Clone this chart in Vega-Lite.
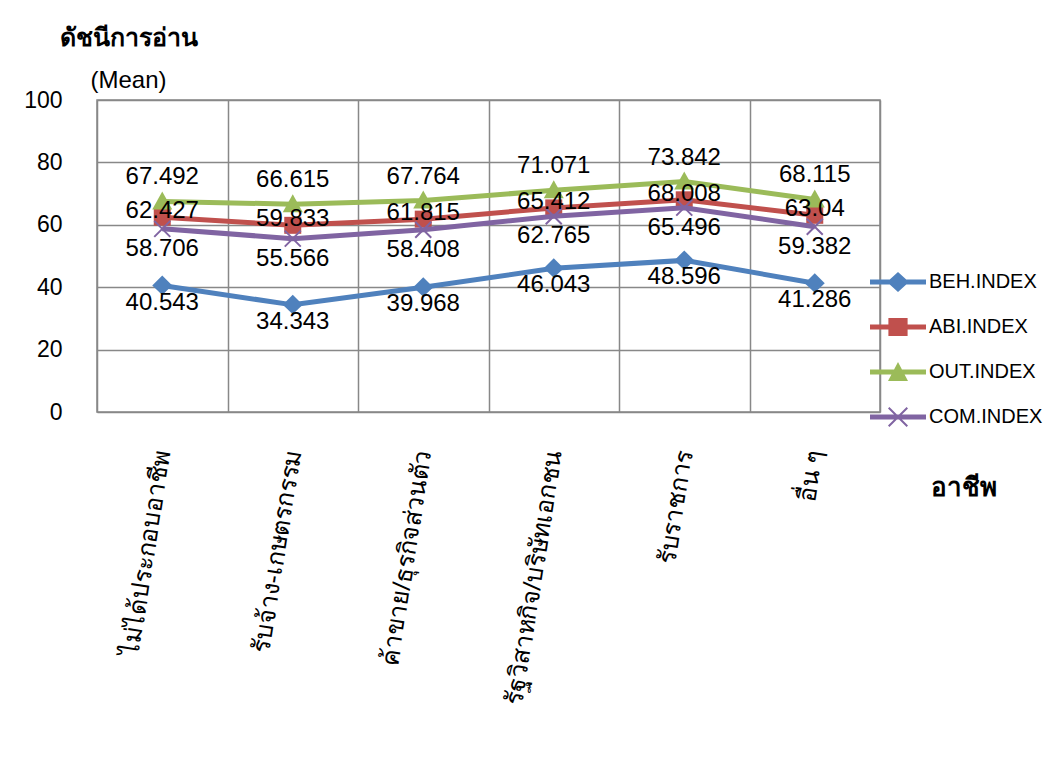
{
  "$schema": "https://vega.github.io/schema/vega-lite/v6.json",
  "width": 783,
  "height": 312,
  "autosize": {"type": "none"},
  "padding": {"left": 97, "top": 100, "right": 183, "bottom": 348},
  "background": "white",
  "title": {"text": "ดัชนีการอ่าน", "anchor": "start", "frame": "group", "dx": -37, "offset": -3, "baseline": "alphabetic", "fontSize": 25, "fontWeight": "bold", "font": "Liberation Sans", "color": "black"},
  "config": {
    "view": {"stroke": "#888", "strokeWidth": 1.5},
    "font": "Liberation Sans",
    "legend": {"orient": "none", "legendX": 781, "legendY": 162, "padding": 0, "symbolSize": 1600, "symbolStrokeWidth": 0, "rowPadding": 15, "labelOffset": 11, "labelFontSize": 20, "labelColor": "black", "labelFont": "Liberation Sans", "labelLimit": 300}
  },
  "data": {"values": [
    {"occupation": "ไม่ได้ประกอบอาชีพ", "series": "BEH.INDEX", "value": 40.543},
    {"occupation": "รับจ้าง-เกษตรกรรม", "series": "BEH.INDEX", "value": 34.343},
    {"occupation": "ค้าขาย/ธุรกิจส่วนตัว", "series": "BEH.INDEX", "value": 39.968},
    {"occupation": "รัฐวิสาหกิจ/บริษัทเอกชน", "series": "BEH.INDEX", "value": 46.043},
    {"occupation": "รับราชการ", "series": "BEH.INDEX", "value": 48.596},
    {"occupation": "อื่น ๆ", "series": "BEH.INDEX", "value": 41.286},
    {"occupation": "ไม่ได้ประกอบอาชีพ", "series": "ABI.INDEX", "value": 62.427},
    {"occupation": "รับจ้าง-เกษตรกรรม", "series": "ABI.INDEX", "value": 59.833},
    {"occupation": "ค้าขาย/ธุรกิจส่วนตัว", "series": "ABI.INDEX", "value": 61.815},
    {"occupation": "รัฐวิสาหกิจ/บริษัทเอกชน", "series": "ABI.INDEX", "value": 65.412},
    {"occupation": "รับราชการ", "series": "ABI.INDEX", "value": 68.008},
    {"occupation": "อื่น ๆ", "series": "ABI.INDEX", "value": 63.04},
    {"occupation": "ไม่ได้ประกอบอาชีพ", "series": "OUT.INDEX", "value": 67.492},
    {"occupation": "รับจ้าง-เกษตรกรรม", "series": "OUT.INDEX", "value": 66.615},
    {"occupation": "ค้าขาย/ธุรกิจส่วนตัว", "series": "OUT.INDEX", "value": 67.764},
    {"occupation": "รัฐวิสาหกิจ/บริษัทเอกชน", "series": "OUT.INDEX", "value": 71.071},
    {"occupation": "รับราชการ", "series": "OUT.INDEX", "value": 73.842},
    {"occupation": "อื่น ๆ", "series": "OUT.INDEX", "value": 68.115},
    {"occupation": "ไม่ได้ประกอบอาชีพ", "series": "COM.INDEX", "value": 58.706},
    {"occupation": "รับจ้าง-เกษตรกรรม", "series": "COM.INDEX", "value": 55.566},
    {"occupation": "ค้าขาย/ธุรกิจส่วนตัว", "series": "COM.INDEX", "value": 58.408},
    {"occupation": "รัฐวิสาหกิจ/บริษัทเอกชน", "series": "COM.INDEX", "value": 62.765},
    {"occupation": "รับราชการ", "series": "COM.INDEX", "value": 65.496},
    {"occupation": "อื่น ๆ", "series": "COM.INDEX", "value": 59.382}
  ]},
  "encoding": {
    "x": {
      "field": "occupation", "type": "nominal",
      "sort": ["ไม่ได้ประกอบอาชีพ", "รับจ้าง-เกษตรกรรม", "ค้าขาย/ธุรกิจส่วนตัว", "รัฐวิสาหกิจ/บริษัทเอกชน", "รับราชการ", "อื่น ๆ"],
      "scale": {"type": "band", "paddingInner": 0, "paddingOuter": 0},
      "axis": {"title": "อาชีพ", "titleX": 866, "titleY": 75, "titleAlign": "center", "titleBaseline": "middle", "titleFontSize": 26, "titleFontWeight": "bold", "titleColor": "black", "labelAngle": -81, "labelAlign": "right", "labelBaseline": "middle", "labelPadding": 38, "labelFontSize": 25, "labelColor": "black", "labelLimit": 400, "ticks": false, "tickSize": 0, "domain": false, "grid": true, "gridColor": "#888", "gridWidth": 1.5, "tickBand": "extent"}
    },
    "y": {
      "field": "value", "type": "quantitative",
      "scale": {"domain": [0, 100], "nice": false},
      "axis": {"title": "(Mean)", "titleAngle": 0, "titleAlign": "left", "titleBaseline": "middle", "titleX": -7, "titleY": -20, "titleFontSize": 24, "titleFontWeight": "normal", "titleColor": "black", "values": [0, 20, 40, 60, 80, 100], "labelFontSize": 23, "labelColor": "black", "labelPadding": 35, "ticks": false, "tickSize": 0, "domain": false, "grid": true, "gridColor": "#888", "gridWidth": 1.5}
    }
  },
  "layer": [
    {
      "transform": [{"filter": "datum.series === 'BEH.INDEX'"}],
      "mark": {"type": "line", "strokeWidth": 5, "color": "#4F81BD"},
      "encoding": {}
    },
    {
      "transform": [{"filter": "datum.series === 'BEH.INDEX'"}],
      "mark": {"type": "point", "filled": true, "opacity": 1, "size": 400, "shape": "M0,-1L1,0L0,0.95L-1,0Z", "color": "#4F81BD"},
      "encoding": {}
    },
    {
      "transform": [{"filter": "datum.series === 'ABI.INDEX'"}],
      "mark": {"type": "line", "strokeWidth": 5, "color": "#C0504D"},
      "encoding": {}
    },
    {
      "transform": [{"filter": "datum.series === 'ABI.INDEX'"}],
      "mark": {"type": "point", "filled": true, "opacity": 1, "size": 400, "shape": "M-0.85,-0.85H0.85V0.85H-0.85Z", "color": "#C0504D"},
      "encoding": {}
    },
    {
      "transform": [{"filter": "datum.series === 'OUT.INDEX'"}],
      "mark": {"type": "line", "strokeWidth": 5, "color": "#9BBB59"},
      "encoding": {}
    },
    {
      "transform": [{"filter": "datum.series === 'OUT.INDEX'"}],
      "mark": {"type": "point", "filled": true, "opacity": 1, "size": 400, "shape": "M0,-1L1,0.8L-1,0.8Z", "color": "#9BBB59"},
      "encoding": {}
    },
    {
      "transform": [{"filter": "datum.series === 'COM.INDEX'"}],
      "mark": {"type": "line", "strokeWidth": 5, "color": "#8064A2"},
      "encoding": {}
    },
    {
      "transform": [{"filter": "datum.series === 'COM.INDEX'"}],
      "mark": {"type": "point", "filled": false, "opacity": 1, "size": 400, "strokeWidth": 2, "shape": "M-0.8,-0.8L0.8,0.8M0.8,-0.8L-0.8,0.8", "color": "#8064A2"},
      "encoding": {}
    },
    {
      "transform": [{"filter": "datum.value < 0"}],
      "mark": {"type": "point", "filled": true, "opacity": 1, "size": 1600},
      "encoding": {
        "color": {"field": "series", "type": "nominal",
          "scale": {"domain": ["BEH.INDEX", "ABI.INDEX", "OUT.INDEX", "COM.INDEX"], "range": ["#4F81BD", "#C0504D", "#9BBB59", "#8064A2"]},
          "legend": {"title": null}},
        "shape": {"field": "series", "type": "nominal",
          "scale": {"domain": ["BEH.INDEX", "ABI.INDEX", "OUT.INDEX", "COM.INDEX"], "range": [
            "M-1.4,-0.12H1.4V0.12H-1.4Z M0,-0.5L0.55,0L0,0.5L-0.55,0Z",
            "M-1.4,-0.12H1.4V0.12H-1.4Z M-0.48,-0.45H0.48V0.45H-0.48Z",
            "M-1.4,-0.12H1.4V0.12H-1.4Z M0,-0.5L0.5,0.45L-0.5,0.45Z",
            "M-1.4,-0.12H1.4V0.12H-1.4Z M-0.5,-0.43L-0.43,-0.5L0.5,0.43L0.43,0.5Z M0.43,-0.5L0.5,-0.43L-0.43,0.5L-0.5,0.43Z"
          ]},
          "legend": {"title": null}}
      }
    },
    {
      "transform": [{"filter": "datum.series === 'OUT.INDEX'"}],
      "mark": {"type": "text", "dy": -24, "fontSize": 24, "color": "black", "font": "Liberation Sans"},
      "encoding": {"text": {"field": "value", "type": "nominal"}}
    },
    {
      "transform": [{"filter": "datum.series === 'ABI.INDEX'"}],
      "mark": {"type": "text", "dy": -6, "fontSize": 24, "color": "black", "font": "Liberation Sans"},
      "encoding": {"text": {"field": "value", "type": "nominal"}}
    },
    {
      "transform": [{"filter": "datum.series === 'COM.INDEX'"}],
      "mark": {"type": "text", "dy": 20, "fontSize": 24, "color": "black", "font": "Liberation Sans"},
      "encoding": {"text": {"field": "value", "type": "nominal"}}
    },
    {
      "transform": [{"filter": "datum.series === 'BEH.INDEX'"}],
      "mark": {"type": "text", "dy": 17, "fontSize": 24, "color": "black", "font": "Liberation Sans"},
      "encoding": {"text": {"field": "value", "type": "nominal"}}
    }
  ]
}
